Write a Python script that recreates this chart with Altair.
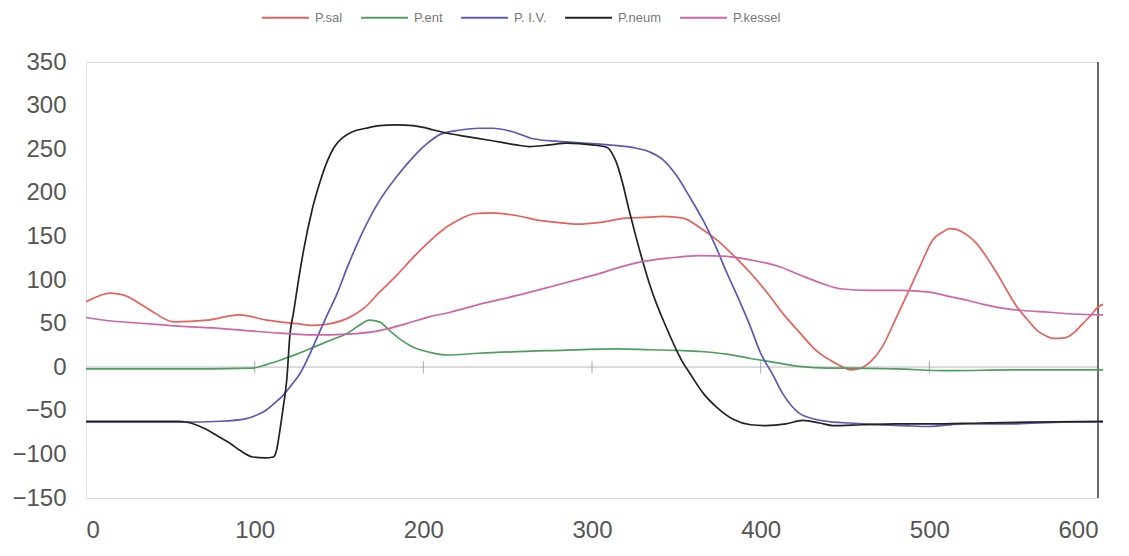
import altair as alt
import pandas as pd

series_names = ["P.sal", "P.ent", "P. I.V.", "P.neum", "P.kessel"]
series_colors = ["#e8605c", "#4e9e5e", "#5a5ab4", "#222222", "#d064a8"]

sal_x = [0, 8, 14, 22, 36, 52, 72, 91, 107, 125, 135, 145, 155, 165, 174, 184, 194, 204, 214, 222, 230, 241, 255, 270, 285, 291, 305, 320, 334, 342, 354, 364, 374, 384, 394, 404, 413, 423, 433, 443, 449, 453, 458, 465, 472, 480, 488, 495, 502, 508, 512, 516, 522, 528, 534, 540, 546, 552, 558, 564, 569, 573, 581, 586, 591, 596, 600, 603]
sal_y = [75, 82, 85, 83, 68, 52, 54, 60, 54, 50, 48, 50, 56, 68, 86, 105, 126, 145, 161, 170, 176, 177, 174, 168, 165, 164, 166, 171, 172, 173, 171, 160, 146, 128, 108, 85, 62, 40, 19, 6, 0, -3, -2, 6, 23, 55, 88, 118, 146, 155, 159, 158, 152, 142, 126, 108, 88, 69, 55, 42, 36, 33, 34, 40, 50, 60, 69, 72]

ent_x = [0, 50, 99, 107, 115, 125, 135, 145, 155, 162, 168, 174, 180, 187, 194, 204, 214, 233, 275, 315, 334, 354, 364, 380, 394, 410, 423, 440, 453, 480, 512, 550, 603]
ent_y = [-2, -2, -1, 3, 8, 15, 23, 31, 39, 48, 54, 52, 42, 31, 23, 17, 14, 16, 19, 21, 20, 19, 18, 15, 10, 5, 1, -1, -1, -2, -4, -3, -3]

piv_x = [0, 30, 56, 80, 95, 101, 107, 112, 117, 122, 127, 132, 137, 143, 149, 155, 164, 174, 184, 194, 202, 210, 222, 233, 241, 253, 265, 280, 295, 310, 324, 334, 342, 350, 358, 366, 373, 380, 387, 394, 400, 407, 413, 423, 433, 443, 453, 470, 485, 500, 520, 550, 580, 603]
piv_y = [-63, -63, -63, -62, -59, -55, -49, -41, -32, -20, -7, 12, 34, 60, 85, 115, 155, 191, 218, 241, 256, 267, 272, 274, 274, 270, 262, 259, 257, 255, 252, 247, 238, 220, 195, 168, 140, 108, 78, 46, 16, -8, -30, -53, -60, -63, -64, -66, -67, -68, -65, -65, -63, -63]

neum_x = [0, 30, 55, 62, 70, 79, 86, 91, 99, 106, 111, 113, 115, 117, 119, 121, 123, 126, 129, 134, 139, 143, 147, 152, 158, 166, 174, 184, 194, 200, 206, 215, 224, 240, 255, 263, 275, 285, 300, 309, 312, 315, 318, 322, 326, 330, 334, 338, 342, 346, 350, 354, 358, 366, 374, 384, 394, 403, 415, 425, 435, 443, 460, 480, 500, 530, 560, 603]
neum_y = [-62, -62, -62, -64, -70, -80, -88, -95, -103, -104, -103, -95, -72, -45, -15, 39, 62, 100, 134, 180, 214, 236, 252, 263, 270, 274, 277, 278, 277, 275, 272, 268, 265, 260, 255, 253, 255, 257, 255, 252, 245, 232, 212, 180, 150, 122, 96, 74, 55, 37, 20, 5, -7, -30, -46, -60, -66, -67, -65, -61, -64, -67, -66, -65, -65, -64, -63, -62]

kes_x = [0, 15, 36, 55, 75, 95, 115, 135, 155, 174, 190, 204, 216, 233, 255, 275, 300, 327, 345, 364, 380, 394, 410, 423, 435, 447, 465, 483, 500, 512, 522, 532, 542, 555, 571, 585, 603]
kes_y = [57, 53, 50, 47, 45, 42, 39, 37, 38, 42, 50, 58, 63, 72, 82, 92, 105, 120, 125, 128, 127, 123, 116, 106, 97, 90, 88, 88, 86, 81, 77, 72, 68, 65, 63, 61, 60]

x_ticks = [0, 100, 200, 300, 400, 500, 600]
y_ticks = [-150, -100, -50, 0, 50, 100, 150, 200, 250, 300, 350]
zero_ticks = [100, 200, 300, 400, 500]

rows = []
for name, xs, ys in zip(series_names,
                        [sal_x, ent_x, piv_x, neum_x, kes_x],
                        [sal_y, ent_y, piv_y, neum_y, kes_y]):
    for i, (a, b) in enumerate(zip(xs, ys)):
        rows.append({"series": name, "x": a, "y": b, "i": i})
df = pd.DataFrame(rows)
tick_df = pd.DataFrame({"tx": zero_ticks})

xscale = alt.Scale(domain=[0, 600], nice=False, zero=False)
yscale = alt.Scale(domain=[-150, 350], nice=False, zero=False)

lines = alt.Chart(df).mark_line(strokeWidth=1.7, interpolate="monotone", clip=False).encode(
    x=alt.X("x:Q", scale=xscale, title=None,
            axis=alt.Axis(values=x_ticks, ticks=False, domain=False, grid=False,
                          labelPadding=20, labelFontSize=24, labelColor="#555",
                          labelFont="Liberation Sans")),
    y=alt.Y("y:Q", scale=yscale, title=None,
            axis=alt.Axis(values=y_ticks, ticks=False, domain=True, domainColor="#e4e4e4",
                          grid=False, labelPadding=20, labelFontSize=24, labelColor="#555",
                          labelFont="Liberation Sans")),
    color=alt.Color("series:N", sort=series_names,
                    scale=alt.Scale(domain=series_names, range=series_colors),
                    legend=alt.Legend(orient="none", legendX=175, legendY=-69,
                                      direction="horizontal", title=None,
                                      symbolType="stroke", symbolSize=2200,
                                      symbolStrokeWidth=2, labelFontSize=13,
                                      labelColor="#777", labelFont="Liberation Sans",
                                      columnPadding=14, labelOffset=5)),
    order="i:Q",
)

zero_rule = alt.Chart(tick_df).mark_rule(color="#d8d8d8", strokeWidth=1).encode(
    y=alt.datum(0, scale=yscale)
)

zero_ticks_mark = alt.Chart(tick_df).mark_tick(orient="vertical", size=12, thickness=1,
                                               color="#888").encode(
    x=alt.X("tx:Q", scale=xscale),
    y=alt.datum(0),
)

right_rule = alt.Chart(tick_df).mark_rule(color="#666", strokeWidth=1).encode(
    x=alt.datum(600),
)

chart = alt.layer(zero_rule, zero_ticks_mark, right_rule, lines).properties(
    width=1012, height=436,
    padding={"left": 78, "top": 54, "right": 20, "bottom": 52},
    autosize=alt.AutoSizeParams(type="none"),
).configure_view(stroke=None).configure(background="white")

chart.save("out.html", embed_options={"renderer": "svg", "actions": False})
